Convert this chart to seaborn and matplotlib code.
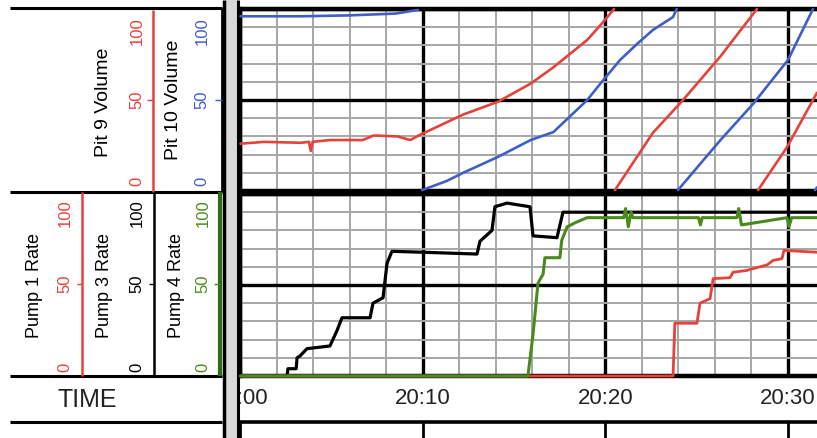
import numpy as np
import pandas as pd
import matplotlib
matplotlib.use("Agg")
import matplotlib.pyplot as plt
from matplotlib import font_manager
import seaborn as sns

sns.set_theme(style="white")
plt.rcParams["font.family"] = ["Liberation Sans", "DejaVu Sans"]

# ---------------- data ----------------
time_ticks = [0, 10, 20, 30]
time_labels = ["20:00", "20:10", "20:20", "20:30"]
scale_ticks = [0, 50, 100]
scale_labels = ["0", "50", "100"]

# minutes after 20:00; *_seg numbers each fill cycle of a pit (trace restarts at 0)
pit9_t = [0, 1.3, 3.3, 3.75, 3.85, 3.95, 4.9, 6.7, 7.3, 8.6, 9.3, 9.86, 10.4, 12.2,
          14.1, 15.9, 17.15, 19.0, 19.8, 20.47, 20.52, 22.6, 24.25, 26.3, 28.3,
          28.36, 29.94, 31.59]
pit9_v = [26, 27, 26.5, 27, 22, 27, 28, 28, 30.5, 30, 28, 31, 33.5, 42,
          49, 59, 68, 83, 92, 100, 0.5, 32, 50, 74, 100,
          0.5, 24, 54]
pit9_seg = [0] * 20 + [1] * 5 + [2] * 3

pit10_t = [0, 3.3, 6.0, 8.5, 9.73, 9.95, 11.3, 12.2, 14.1, 15.9, 17.15, 19.0, 19.8,
           20.8, 21.75, 22.6, 23.7, 23.9, 23.97, 26.3, 28.1, 30.0, 31.37, 31.48, 31.59]
pit10_v = [96, 96, 96.5, 97.5, 99.5, 0.5, 5.5, 10, 18.7, 28, 32.4, 50, 60,
           72, 81, 88.5, 95.6, 100, 0.5, 28, 48, 72, 100, 0.5, 2]
pit10_seg = [0] * 5 + [1] * 13 + [2] * 5 + [3] * 2

pump3_t = [0, 2.55, 2.6, 3.05, 3.1, 3.26, 3.64, 4.9, 5.29, 5.56, 7.1, 7.26, 7.81,
           8.03, 8.3, 10.0, 12.96, 13.12, 13.78, 13.94, 14.6, 15.86, 16.03, 17.34,
           17.67, 31.59]
pump3_v = [0, 0, 4, 4, 10, 11, 15, 16.5, 25, 32, 32, 40, 43,
           62, 68.5, 68, 67, 74, 80, 93, 95, 93, 77, 76,
           90, 90]

pump1_t = [0, 23.7, 23.8, 25.01, 25.18, 25.73, 25.9, 26.82, 26.99, 27.75, 28.08,
           28.85, 29.18, 29.67, 29.78, 31.59]
pump1_v = [0, 0, 29, 29, 40, 42.5, 53.5, 54, 57, 58, 59,
           61, 63.5, 64.5, 69, 68]

pump4_t = [0, 15.75, 16.03, 16.3, 16.58, 16.68, 17.5, 17.6, 17.9, 18.4, 18.99,
           21.0, 21.1, 21.25, 21.4, 21.5, 25.1, 25.2, 25.3, 27.2, 27.3, 27.45,
           29.95, 30.05, 30.2, 31.59]
pump4_v = [0, 0, 23, 51, 56, 65, 65, 74.5, 82, 84.5, 87,
           87, 92, 82, 90, 87, 87, 83, 87, 87, 92, 83,
           87, 82, 87, 87]

# ---------------- colours ----------------
RED = "#e5423b"
BLUE = "#3f5fc4"
GREEN = "#4a8a1c"
DKGREEN = "#2f6b12"
GRID = "#a6a6a6"

W, H = 817, 438
XMAX = (817 - 240.5) / 18.25

fig = plt.figure(figsize=(W / 100, H / 100), dpi=100)
fig.patch.set_facecolor("white")

# background axes in pixel coordinates for the frame / label panel
bg = fig.add_axes([0, 0, 1, 1], zorder=0)
bg.set_xlim(0, W)
bg.set_ylim(H, 0)
bg.axis("off")


def hline(y, x0, x1, color="black", lw=2.2):
    bg.plot([x0, x1], [y, y], color=color, lw=lw, solid_capstyle="butt")


def vline(x, y0, y1, color="black", lw=2.2):
    bg.plot([x, x], [y0, y1], color=color, lw=lw, solid_capstyle="butt")


# separator band
bg.fill_between([226.5, 237], 0, H, color="#d9d9d9", lw=0)
vline(224.5, 0, H, lw=2.5)
vline(238.5, 0, H, lw=2.2)

# left table lines
for y in (8, 192, 376, 422):
    hline(y, 10, 222, lw=2.2)
vline(222, 8, 192, lw=2.0)
vline(153, 10, 192, color=RED, lw=1.8)
hline(100, 147.5, 153, color=RED, lw=1.0)
hline(100, 215.5, 222, color=BLUE, lw=1.0)
vline(82, 192, 376, color=RED, lw=1.8)
hline(284, 77, 82, color=RED, lw=1.0)
vline(154, 192, 376, color="black", lw=1.8)
hline(284, 149, 154, color="black", lw=1.0)
vline(220, 192, 376, color=DKGREEN, lw=3.0)
hline(284, 214, 220, color=GREEN, lw=1.0)

# axis names
lab_kw = dict(rotation=90, ha="center", va="center", color="black")
bg.text(104, 102, "Pit 9 Volume", fontsize=14, **lab_kw)
bg.text(174, 100, "Pit 10 Volume", fontsize=14, **lab_kw)
bg.text(35, 285, "Pump 1 Rate", fontsize=13, **lab_kw)
bg.text(105, 285, "Pump 3 Rate", fontsize=13, **lab_kw)
bg.text(177, 285, "Pump 4 Rate", fontsize=13, **lab_kw)

# scale labels (positions of 0 / 50 / 100 in each panel)
top_pos = {0: 181, 50: 100, 100: 31}
bot_pos = {0: 367, 50: 284, 100: 213}
for tick, lab in zip(scale_ticks, scale_labels):
    kw = dict(rotation=90, ha="center", va="center", fontsize=12)
    bg.text(137, top_pos[tick], lab, color=RED, **kw)
    bg.text(202, top_pos[tick], lab, color=BLUE, **kw)
    bg.text(65, bot_pos[tick], lab, color=RED, **kw)
    bg.text(137, bot_pos[tick], lab, color="black", **kw)
    bg.text(203, bot_pos[tick], lab, color=GREEN, **kw)

bg.text(87, 400, "TIME", fontsize=18, ha="center", va="center", color="#222222")

# ---------------- data panels ----------------
left = 240.5 / W
width = 1 - left
ax_top = fig.add_axes([left, (H - 191) / H, width, 182 / H], zorder=2)
ax_bot = fig.add_axes([left, (H - 376) / H, width, 182 / H], zorder=2)


def style(ax):
    ax.set_facecolor("white")
    ax.set_xlim(0, XMAX)
    ax.set_ylim(0, 100)
    ax.set_xticks(time_ticks)
    ax.set_xticks(np.arange(0, XMAX, 2), minor=True)
    ax.set_yticks(scale_ticks)
    ax.set_yticks(np.arange(0, 101, 10), minor=True)
    ax.grid(which="minor", color=GRID, lw=1.4)
    ax.grid(which="major", color="black", lw=2.4)
    ax.set_axisbelow(True)
    ax.tick_params(which="both", length=0, labelbottom=False, labelleft=False)
    ax.set_xlabel("")
    ax.set_ylabel("")
    for s in ("top", "bottom", "left"):
        ax.spines[s].set_visible(True)
        ax.spines[s].set_color("black")
        ax.spines[s].set_linewidth(3.2)
    ax.spines["right"].set_visible(False)


line_kw = dict(estimator=None, sort=False, legend=False, zorder=3, clip_on=False)
sns.lineplot(x=pit9_t, y=pit9_v, units=pit9_seg, ax=ax_top, color=RED,
             linewidth=1.9, **line_kw)
sns.lineplot(x=pit10_t, y=pit10_v, units=pit10_seg, ax=ax_top, color=BLUE,
             linewidth=1.9, **line_kw)

sns.lineplot(x=pump3_t, y=pump3_v, ax=ax_bot, color="black", linewidth=2.3, **line_kw)
sns.lineplot(x=pump1_t, y=pump1_v, ax=ax_bot, color=RED, linewidth=2.0, **line_kw)
sns.lineplot(x=pump4_t, y=pump4_v, ax=ax_bot, color=GREEN, linewidth=2.2, **line_kw)

style(ax_top)
style(ax_bot)

# ---------------- time row ----------------
ax_time = fig.add_axes([left, (H - 420) / H, width, 40 / H], zorder=2)
ax_time.set_xlim(0, XMAX)
ax_time.set_ylim(0, 1)
ax_time.axis("off")

names = {f.name for f in font_manager.fontManager.ttflist}
if "Liberation Sans Narrow" in names:
    tfam, tsize = "Liberation Sans Narrow", 19
else:
    tfam, tsize = "Liberation Sans", 16
for t, lab in zip(time_ticks, time_labels):
    ax_time.text(t, 0.55, lab, ha="center", va="center", fontsize=tsize,
                 family=tfam, color="#222222", clip_on=True)

# footer row below the time labels
ax_foot = fig.add_axes([left, 0, width, (H - 422) / H], zorder=2)
ax_foot.set_xlim(0, XMAX)
ax_foot.set_ylim(0, 1)
ax_foot.set_xticks(time_ticks)
ax_foot.set_yticks([])
ax_foot.grid(which="major", axis="x", color="black", lw=2.0)
ax_foot.tick_params(length=0, labelbottom=False)
for s in ("bottom", "right", "left"):
    ax_foot.spines[s].set_visible(False)
ax_foot.spines["top"].set_color("black")
ax_foot.spines["top"].set_linewidth(2.6)
ax_foot.set_facecolor("white")

fig.savefig("out.png", dpi=100, facecolor="white")
